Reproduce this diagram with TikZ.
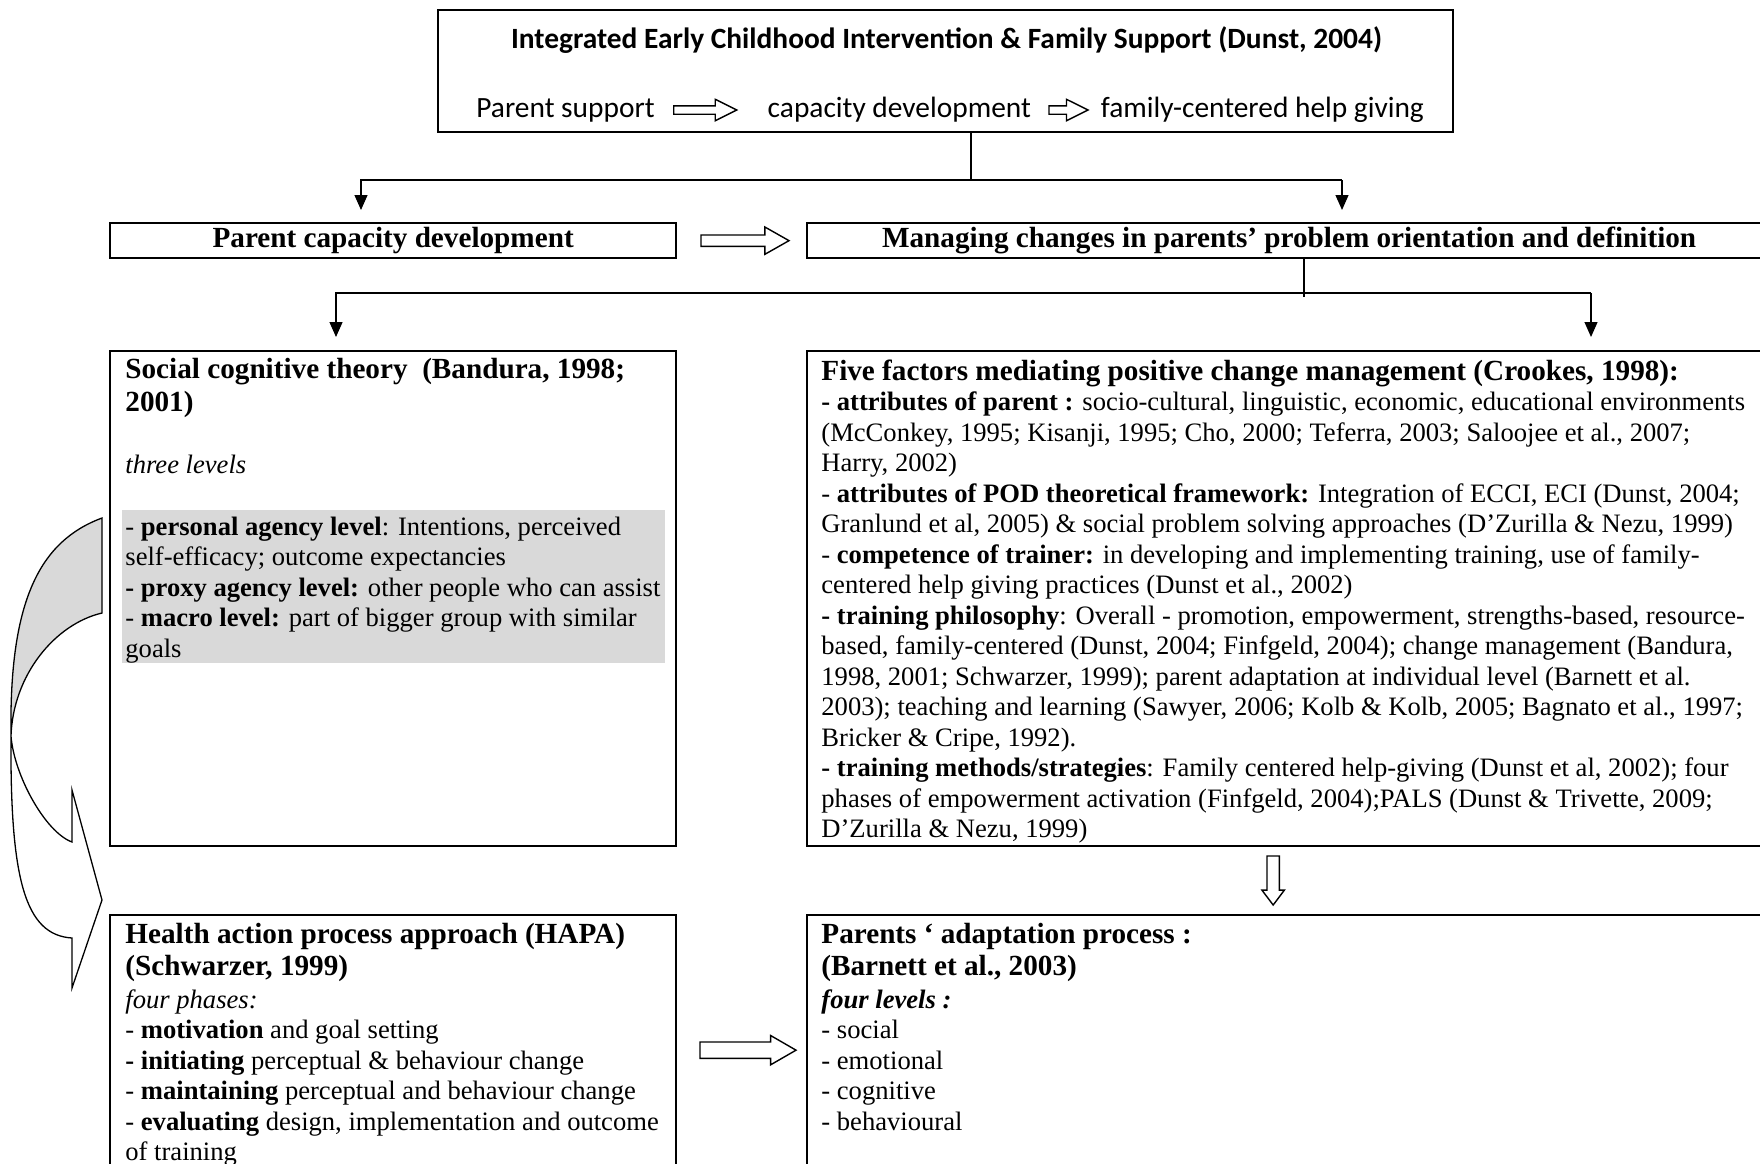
\documentclass[tikz,border=0pt]{standalone}
\usepackage{fontspec}
\setmainfont{Liberation Serif}
\newfontfamily\calibrifont{Carlito}
\usetikzlibrary{positioning,arrows.meta,shapes.arrows}

\definecolor{shade}{RGB}{217,217,217}
\newcommand\bodysize{\fontsize{13.3}{15.25}\selectfont}
\newcommand\headsize{\fontsize{14.6}{16}\selectfont}

\begin{document}
\begin{tikzpicture}[
    x=0.5pt, y=-0.5pt,
    box/.style={draw, line width=1.15pt, rectangle, inner sep=0pt, anchor=north west},
    body/.style={font=\bodysize, align=left, anchor=north west, inner sep=0pt},
    heading/.style={font=\headsize\bfseries, align=left, anchor=north west, inner sep=0pt},
    toptext/.style={font=\calibrifont\fontsize{14.7}{17}\selectfont, inner sep=0pt},
    link/.style={line width=0.6pt, -{Triangle[length=7.5pt,width=6.5pt]}},
    hollow/.style={single arrow, draw, line width=0.7pt, inner sep=0pt},
    curve/.style={line width=0.65pt, line join=miter}
]
    \path[use as bounding box, fill=white] (0,0) rectangle (1760,1163);

    % boxes
    \node[box, minimum width=507.5pt, minimum height=61pt] (top) at (437,9) {};
    \node[box, font=\headsize\bfseries, minimum width=283pt, minimum height=17.5pt] (pcd) at (109,222) {Parent capacity development};
    \node[box, font=\headsize\bfseries, minimum width=482pt, minimum height=17.5pt] (manage) at (806,222) {Managing changes in parents’ problem orientation and definition};
    \node[box, minimum width=283pt, minimum height=247.5pt] (sct) at (109,350) {};
    \node[box, minimum width=482pt, minimum height=247.5pt] (five) at (806,350) {};
    \node[box, minimum width=283pt, minimum height=135pt] (hapa) at (109,914) {};
    \node[box, minimum width=482pt, minimum height=135pt] (adapt) at (806,914) {};

    % top box
    \node[toptext, font=\calibrifont\bfseries\fontsize{14.7}{17}\selectfont] (title) at (946.5,40.5) {Integrated Early Childhood Intervention \& Family Support (Dunst, 2004)};
    \node[toptext, anchor=west] (ps) at (476,110) {Parent support};
    \node[hollow, minimum height=31.5pt, inner ysep=1.75pt, single arrow head extend=3.25pt, single arrow tip angle=53, right=9pt of ps] (inA) {};
    \node[toptext, right=14.5pt of inA] (cd) {capacity development};
    \node[hollow, minimum height=19.5pt, inner ysep=1.75pt, single arrow head extend=3.25pt, single arrow tip angle=53, right=8.5pt of cd] (inB) {};
    \node[toptext, right=5.5pt of inB] (fc) {family-centered help giving};

    % first split
    \coordinate (fork1) at (971,180);
    \coordinate (joinA) at (361,180);
    \coordinate (joinB) at (1342,180);
    \draw[line width=0.6pt] (top.south -| fork1) -- (fork1);
    \draw[link, shorten >=6pt] (joinB) -| (joinA |- pcd.north);
    \draw[link, shorten >=6pt] (joinB) -- (joinB |- manage.north);
    \node[hollow, minimum height=44pt, inner ysep=2.5pt, single arrow head extend=4pt, single arrow tip angle=59, right=11.5pt of pcd] (arrA) {};

    % second split
    \coordinate (fork2) at (1304,297);
    \coordinate (joinC) at (336,293);
    \coordinate (joinD) at (1591,293);
    \draw[line width=0.6pt] (manage.south -| fork2) -- (fork2);
    \draw[link, shorten >=6.5pt] (joinD) -| (joinC |- sct.north);
    \draw[link, shorten >=6.5pt] (joinD) -- (joinD |- five.north);

    % social cognitive theory
    \node[heading, font=\bfseries\fontsize{14.6}{16.5}\selectfont] (sctHead) at (125,355) {\strut Social cognitive theory\ \ (Bandura, 1998;\\2001)};
    \node[body, font=\bodysize\itshape] (sctLevels) at (125,451.6) {\strut three levels};
    \node[fill=shade, minimum width=271.5pt, minimum height=76.5pt, anchor=north west, inner sep=0pt] (agency) at (122,510) {};
    \node[body] (agencyText) at (125,513.7) {\strut- \textbf{personal agency level}: Intentions, perceived\\
        self-efficacy; outcome expectancies\\
        \textbf{- proxy agency level:} other people who can assist\\
        - \textbf{macro level:} part of bigger group with similar\\
        goals};

    % five factors
    \node[body] (fiveText) at (821,358.6) {\strut{\headsize\bfseries Five factors mediating positive change management (Crookes, 1998):}\\
        \textbf{- attributes of parent :} socio-cultural, linguistic, economic, educational environments\\
        (McConkey, 1995; Kisanji, 1995; Cho, 2000; Teferra, 2003; Saloojee et al., 2007;\\
        Harry, 2002)\\
        - \textbf{attributes of POD theoretical framework:} Integration of ECCI, ECI (Dunst, 2004;\\
        Granlund et al, 2005) \& social problem solving approaches (D’Zurilla \& Nezu, 1999)\\
        - \textbf{competence of trainer:} in developing and implementing training, use of family-\\
        centered help giving practices (Dunst et al., 2002)\\
        \textbf{- training philosophy}: Overall - promotion, empowerment, strengths-based, resource-\\
        based, family-centered (Dunst, 2004; Finfgeld, 2004); change management (Bandura,\\
        1998, 2001; Schwarzer, 1999); parent adaptation at individual level (Barnett et al.\\
        2003); teaching and learning (Sawyer, 2006; Kolb \& Kolb, 2005; Bagnato et al., 1997;\\
        Bricker \& Cripe, 1992).\\
        \textbf{- training methods/strategies}: Family centered help-giving (Dunst et al, 2002); four\\
        phases of empowerment activation (Finfgeld, 2004);PALS (Dunst \& Trivette, 2009;\\
        D’Zurilla \& Nezu, 1999)};
    \node[hollow, rotate=-90, minimum height=24.5pt, inner ysep=2.75pt, single arrow head extend=2.5pt, single arrow tip angle=74, anchor=tail] (arrC) at ([xshift=-8pt,yshift=-4pt]five.south) {};

    % HAPA
    \node[heading] (hapaHead) at (125,920.6) {\strut Health action process approach (HAPA)\\(Schwarzer, 1999)};
    \node[body] (hapaText) at (125,986.7) {\strut\textit{four phases:}\\
        - \textbf{motivation} and goal setting\\
        \textbf{- initiating} perceptual \& behaviour change\\
        - \textbf{maintaining} perceptual and behaviour change\\
        - \textbf{evaluating} design, implementation and outcome\\
        of training};
    \node[hollow, minimum height=48pt, inner ysep=3.75pt, single arrow head extend=3.25pt, single arrow tip angle=60, right=11pt of hapa] (arrB) {};

    % adaptation
    \node[heading] (adaptHead) at (821,920.6) {\strut Parents ‘ adaptation process :\\(Barnett et al., 2003)};
    \node[body] (adaptText) at (821,986.7) {\strut\textbf{\textit{four levels :}}\\
        - social\\
        - emotional\\
        - cognitive\\
        - behavioural};

    % curved arrow, sct to hapa
    \filldraw[curve, fill=shade] (102,518) .. controls (40,541) and (9,600) .. (11,736)
        .. controls (13,675) and (55,624) .. (102,613) -- cycle;
    \filldraw[curve, fill=white] (11,736) .. controls (10,880) and (25,935) .. (72,938)
        -- (72,988) -- (102,900) -- (72,790) -- (72,842)
        .. controls (45,832) and (14,775) .. cycle;
\end{tikzpicture}
\end{document}
